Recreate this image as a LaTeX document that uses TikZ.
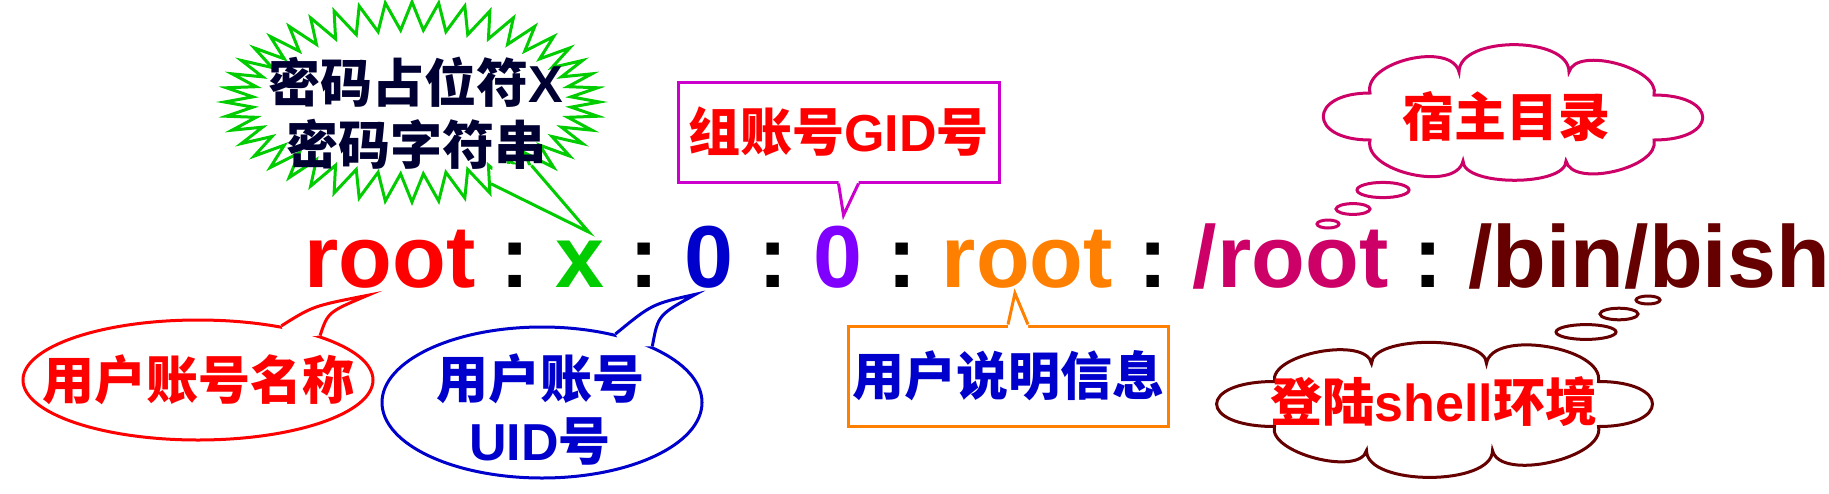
\documentclass[tikz,border=0pt]{standalone}
\usepackage{fontspec}
\setmainfont{Liberation Sans}
\newfontfamily\en{Liberation Sans}
\newfontfamily\zh{Noto Sans CJK SC}[BoldFont={Noto Sans CJK SC Black}]
\usepackage{tikz}
\usetikzlibrary{shapes.symbols,shapes.geometric,calc}

\definecolor{pwdgreen}{HTML}{00CC00}
\definecolor{uidblue}{HTML}{0000CC}
\definecolor{gidviolet}{HTML}{8000FF}
\definecolor{gecosorange}{HTML}{FF8000}
\definecolor{homemagenta}{HTML}{CC0066}
\definecolor{shellbrown}{HTML}{660000}
\definecolor{gidframe}{HTML}{CC00CC}
\definecolor{burstnavy}{HTML}{000033}

\begin{document}
\begin{tikzpicture}[x=0.5pt, y=-0.5pt,
  field/.style={inner sep=0pt, anchor=base west, font=\en\bfseries\fontsize{44pt}{44pt}\selectfont},
  colon/.style={field, inner xsep=12.25pt},
  note/.style={inner sep=0pt, align=center, font=\zh\bfseries\fontsize{26pt}{31pt}\selectfont},
  frame/.style={line width=1.5pt, fill=white}
]
\useasboundingbox (0,0) rectangle (1829,493);

% the passwd line
\node[field, text=red] (user) at (304,287) {root};
\node[colon] (c1) at (user.base east) {:};
\node[field, text=pwdgreen] (pwd) at (c1.base east) {x};
\node[colon] (c2) at (pwd.base east) {:};
\node[field, text=uidblue] (uid) at (c2.base east) {0};
\node[colon] (c3) at (uid.base east) {:};
\node[field, text=gidviolet] (gid) at (c3.base east) {0};
\node[colon] (c4) at (gid.base east) {:};
\node[field, text=gecosorange] (gecos) at (c4.base east) {root};
\node[colon] (c5) at (gecos.base east) {:};
\node[field, text=homemagenta] (home) at (c5.base east) {/root};
\node[colon] (c6) at (home.base east) {:};
\node[field, text=shellbrown] (shell) at (c6.base east) {/bin/bish};

% password: starburst
\node[frame, draw=pwdgreen, starburst, starburst points=44, starburst point height=14pt,
  random starburst=0, minimum width=187.5pt, minimum height=100pt] (burst) at (412,102) {};
\coordinate (pwdtip) at ($(pwd.north)+(9,-8)$);
\fill[white] (burst.-46) -- (pwdtip) -- (burst.-28) -- ($(burst.-37)!0.2!(burst.center)$) -- cycle;
\draw[frame, fill=none, draw=pwdgreen] (burst.-46) -- (pwdtip) -- (burst.-28);
\node[note, text=burstnavy] at (416,113) {密码占位符{\en X}\\密码字符串};

% GID: box above
\node[frame, draw=gidframe, minimum width=160.5pt, minimum height=50pt] (gidbox) at (838.5,132) {};
\coordinate (gidtip) at ($(gid.north)+(6,-10)$);
\fill[white] (gidbox.south) -- (gidtip) -- ($(gidbox.south)+(20,0)$) -- ++(0,-5) -- ($(gidbox.south)+(0,-5)$) -- cycle;
\draw[frame, fill=none, draw=gidframe] (gidbox.south) -- (gidtip) -- ($(gidbox.south)+(20,0)$);
\node[note, text=red] at (gidbox) {组账号{\en GID}号};

% user name: ellipse
\node[frame, draw=red, ellipse, minimum width=175pt, minimum height=60pt, inner sep=0pt] (userbub) at (198,380) {};
\coordinate (usertip) at ($(user.south)+(-22,7)$);
\fill[white] (userbub.33) .. controls (313,306) .. (usertip) .. controls (328,312) .. (userbub.20)
  -- ($(userbub.26)!0.15!(userbub.center)$) -- cycle;
\draw[frame, fill=none, draw=red] (userbub.33) .. controls (313,306) .. (usertip) .. controls (328,312) .. (userbub.20);
\node[note, text=red] at (userbub) {用户账号名称};

% UID: ellipse
\node[frame, draw=uidblue, ellipse, minimum width=160pt, minimum height=75.5pt, inner sep=0pt] (uidbub) at (542,402.5) {};
\coordinate (uidtip) at ($(uid.south)+(-13,6)$);
\fill[white] (uidbub.43) .. controls (652,304) .. (uidtip) .. controls (658,315) .. (uidbub.27)
  -- ($(uidbub.35)!0.12!(uidbub.center)$) -- cycle;
\draw[frame, fill=none, draw=uidblue] (uidbub.43) .. controls (652,304) .. (uidtip) .. controls (658,315) .. (uidbub.27);
\node[note, text=uidblue] at (540,410) {用户账号\\{\en UID}号};

% comment field: box below
\node[frame, draw=gecosorange, minimum width=160pt, minimum height=50pt] (gecosbox) at (1008,376) {};
\coordinate (gecostip) at ($(gecos.south)+(-12.5,5)$);
\fill[white] (gecosbox.north) -- (gecostip) -- ($(gecosbox.north)+(20,0)$) -- ++(0,5) -- ($(gecosbox.north)+(0,5)$) -- cycle;
\draw[frame, fill=none, draw=gecosorange] (gecosbox.north) -- (gecostip) -- ($(gecosbox.north)+(20,0)$);
\node[note, text=uidblue] at (gecosbox) {用户说明信息};

% home directory: cloud
\coordinate (homecloud) at (1512,112);
\draw[frame, draw=homemagenta, shift={(homecloud)}] (-142,28)
  \foreach \px/\py/\lo in {-142/-19/3.4, -53/-40/.9, 57/-40/.85, 142/-17/.8, 142/28/3.7, 54/49/.8, -49/49/.64, -142/28/.87}
  { to[bend left=90, looseness=\lo] (\px,\py) } -- cycle;
\foreach \cx/\cy/\rx/\ry in {1383/190/13pt/3.8pt, 1353/209/8.5pt/2.7pt, 1328/224/5.5pt/2pt}
  \draw[frame, draw=homemagenta] (\cx,\cy) ellipse [x radius=\rx, y radius=\ry];
\node[note, text=red] at (1506,117) {宿主目录};

% login shell: cloud
\coordinate (shellcloud) at (1434.5,409.5);
\draw[frame, draw=shellbrown, shift={(shellcloud)}] (-160,17)
  \foreach \px/\py/\lo in {-160/-28/4.4, -63/-46/.73, 52/-46/.63, 164/-28/.79, 164/17/4.1, 58/41/.76, -68/41/.73, -160/17/.73}
  { to[bend left=90, looseness=\lo] (\px,\py) } -- cycle;
\foreach \cx/\cy/\rx/\ry in {1586/332/15pt/3.7pt, 1619/314/9.5pt/2.9pt, 1648/300/6pt/2pt}
  \draw[frame, draw=shellbrown] (\cx,\cy) ellipse [x radius=\rx, y radius=\ry];
\node[note, text=red] at (1434,402) {登陆{\en shell}环境};
\end{tikzpicture}
\end{document}
